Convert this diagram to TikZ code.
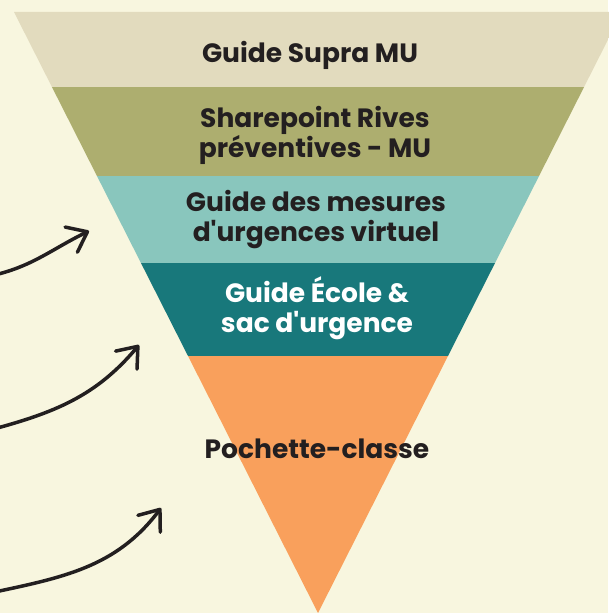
\documentclass[tikz,border=0pt]{standalone}
\usepackage{fontspec}
\setmainfont{Poppins}
\usetikzlibrary{arrows.meta}
\definecolor{cream}{HTML}{F8F6DF}
\definecolor{band_supra}{HTML}{E2DBBE}
\definecolor{band_share}{HTML}{ADAE6F}
\definecolor{band_mes}{HTML}{89C6BD}
\definecolor{band_ecole}{HTML}{18787B}
\definecolor{band_poch}{HTML}{F9A05C}
\definecolor{ink}{HTML}{231F20}
\newcommand{\apos}{\textquotesingle}
\tikzset{
	bandlabel/.style = {
		align=center,
		inner sep=0pt,
		text centered,
		font=\fontsize{26.5}{30}\selectfont\bfseries,
		text=ink
	},
	bandlabel_w/.style = {
		bandlabel,
		text=white
	},
	pointer/.style = {
		draw=ink,
		line width=3.5pt,
		line cap=round,
		-{Straight Barb[length=18pt,width=28pt,round]}
	},
}
\begin{document}
\begin{tikzpicture}[x=1pt,y=1pt]
\useasboundingbox (0,0) rectangle (608,613);
\fill[cream] (0,0) rectangle (608,613);
\coordinate (tl) at (14,601);
\coordinate (tr) at (622,601);
\coordinate (apex) at (318,0);
\begin{scope}
\clip (tl) -- (tr) -- (apex) -- cycle;
\fill[band_supra] (0,526) rectangle (640,613);
\fill[band_share] (0,437) rectangle (640,526);
\fill[band_mes] (0,350) rectangle (640,437);
\fill[band_ecole] (0,257) rectangle (640,350);
\fill[band_poch] (0,0) rectangle (640,257);
\end{scope}
% labels (base = last line)
\node [bandlabel, anchor=base] (supra) at (310,550) {Guide Supra MU};
\node [bandlabel, anchor=base] (sharepoint) at (315,455) {Sharepoint Rives\\préventives - MU};
\node [bandlabel, anchor=base] (mesures) at (316,371) {Guide des mesures\\d\apos urgences virtuel};
\node [bandlabel_w, anchor=base] (ecole) at (317,280) {Guide École \&\\sac d\apos urgence};
\node [bandlabel, anchor=base] (pochette) at (317,154) {Pochette-classe};
% arrows
\coordinate (a1s) at (-10,337);
\coordinate (a1e) at (89,382);
\coordinate (a2s) at (-10,183);
\coordinate (a2e) at (139,268);
\coordinate (a3s) at (-10,20);
\coordinate (a3e) at (161,105);
\draw [pointer] (a1s) to[out=12,in=206] (a1e);
\draw [pointer] (a2s) to[out=15,in=230] (a2e);
\draw [pointer] (a3s) to[out=12,in=233] (a3e);
\end{tikzpicture}
\end{document}
